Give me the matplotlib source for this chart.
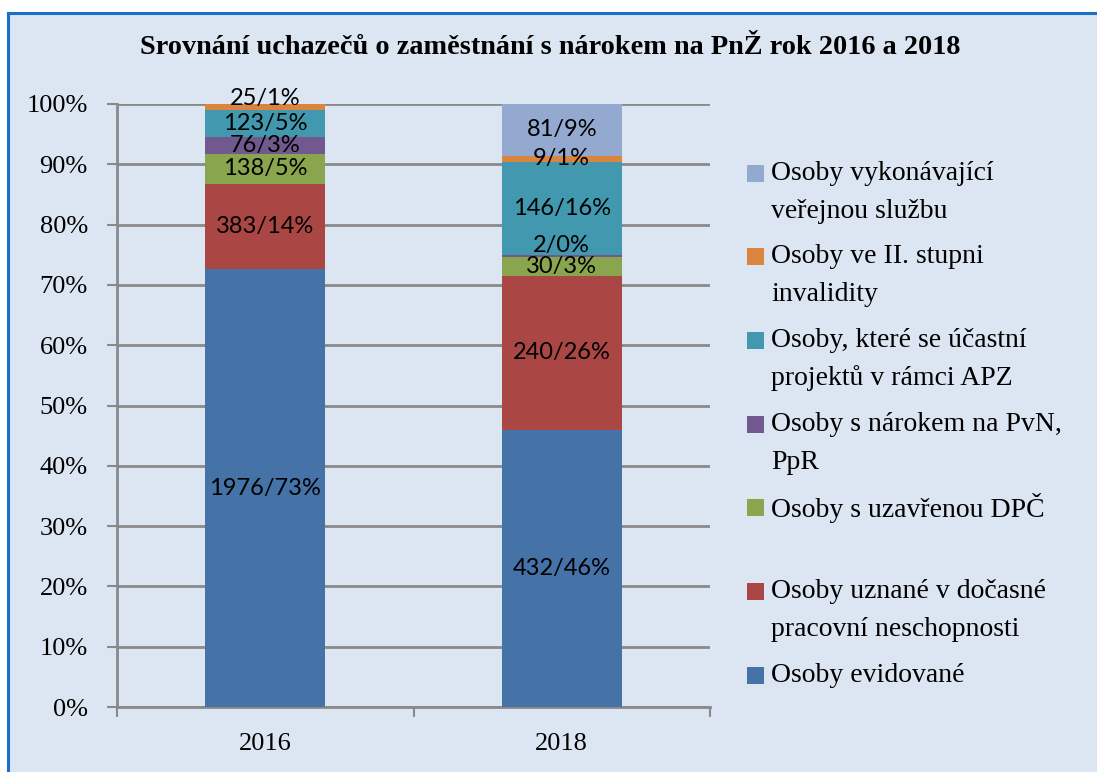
import matplotlib
matplotlib.use('Agg')
import matplotlib.pyplot as plt
from matplotlib.patches import Rectangle
from matplotlib.lines import Line2D
import numpy as np


# counts per category (bottom to top of the stack)
years = ['2016', '2018']
evidovane = [1976, 432]
neschopnost = [383, 240]
dpc = [138, 30]
pvn_ppr = [76, 2]
apz = [123, 146]
invalidita = [25, 9]
verejna_sluzba = [0, 81]

names = ['Osoby evidované',
         'Osoby uznané v dočasné\npracovní neschopnosti',
         'Osoby s uzavřenou DPČ',
         'Osoby s nárokem na PvN,\nPpR',
         'Osoby, které se účastní\nprojektů v rámci APZ',
         'Osoby ve II. stupni\ninvalidity',
         'Osoby vykonávající\nveřejnou službu']
colors = ['#4572A7', '#AA4643', '#89A54E', '#71588F', '#4198AF', '#DB843D', '#93A9CF']
series = [evidovane, neschopnost, dpc, pvn_ppr, apz, invalidita, verejna_sluzba]

title = 'Srovnání uchazečů o zaměstnání s nárokem na PnŽ rok 2016 a 2018'

counts = np.array(series, dtype=float)
totals = counts.sum(axis=0)
shares = counts / totals * 100

W, H = 1097, 772
fig = plt.figure(figsize=(W / 100, H / 100), dpi=100, facecolor='white')

# chart frame (light blue area with blue border top/left)
bg = '#DCE6F2'
fig.patches.append(Rectangle((8 / W, 0), 1, 1 - 13 / H, transform=fig.transFigure,
                             facecolor=bg, edgecolor='none', zorder=-5))
fig.lines.append(Line2D([8 / W, 1], [1 - 13 / H, 1 - 13 / H], transform=fig.transFigure,
                        color='#1C6FC9', lw=2.2))
fig.lines.append(Line2D([8 / W, 8 / W], [0, 1 - 13 / H], transform=fig.transFigure,
                        color='#1C6FC9', lw=2.2))

ax = fig.add_axes([117 / W, 1 - 707 / H, 593 / W, 603 / H])
ax.set_facecolor('none')

x = np.arange(len(years))
width = 0.405
bottom = np.zeros(len(years))
nudge = {(3, 1): 1.7, (5, 0): 1.3}  # small label shifts for tiny segments
for i, (vals, col) in enumerate(zip(shares, colors)):
    ax.bar(x, vals, width, bottom=bottom, color=col, zorder=3)
    for j in range(len(years)):
        if counts[i, j] > 0:
            y = bottom[j] + vals[j] / 2 + nudge.get((i, j), 0)
            ax.text(x[j], y, '{:d}/{:d}%'.format(int(counts[i, j]), int(round(vals[j]))),
                    ha='center', va='center', fontsize=17, family='Lato', zorder=4)
    bottom += vals

grid_col = '#898989'
ax.set_ylim(0, 100)
ax.set_xlim(-0.5, 1.5)
ax.set_yticks(np.arange(0, 101, 10))
ax.set_yticklabels(['{}%'.format(v) for v in range(0, 101, 10)])
ax.yaxis.grid(True, color=grid_col, lw=2, zorder=0)
ax.set_xticks(x)
ax.set_xticklabels(years)
ax.set_xticks([-0.5, 0.5, 1.5], minor=True)
ax.tick_params(axis='x', which='major', length=0, pad=19, labelsize=19)
ax.tick_params(axis='x', which='minor', length=7, width=1.5, color=grid_col)
ax.tick_params(axis='y', length=7, width=1.5, color=grid_col, pad=14, labelsize=19)
for lab in ax.get_xticklabels() + ax.get_yticklabels():
    lab.set_family('Liberation Serif')
for s in ['top', 'right']:
    ax.spines[s].set_visible(False)
for s in ['left', 'bottom']:
    ax.spines[s].set_color(grid_col)
    ax.spines[s].set_linewidth(2)

fig.text(550 / W, 1 - 48 / H, title, ha='center', va='center', fontsize=20.3,
         fontweight='bold', family='Liberation Serif')

# legend drawn by hand, top entry = last series
y0, step, line_gap = 173, 83.7, 38
for k, i in enumerate(range(len(names) - 1, -1, -1)):
    yc = y0 + k * step
    fig.patches.append(Rectangle((747 / W, 1 - (yc + 8.5) / H), 17 / W, 17 / H,
                                 transform=fig.transFigure, facecolor=colors[i],
                                 edgecolor='none'))
    for n, line in enumerate(names[i].split('\n')):
        fig.text(771 / W, 1 - (yc + n * line_gap) / H, line, ha='left', va='center',
                 fontsize=20, family='Liberation Serif')

fig.savefig('out.png', dpi=100)
